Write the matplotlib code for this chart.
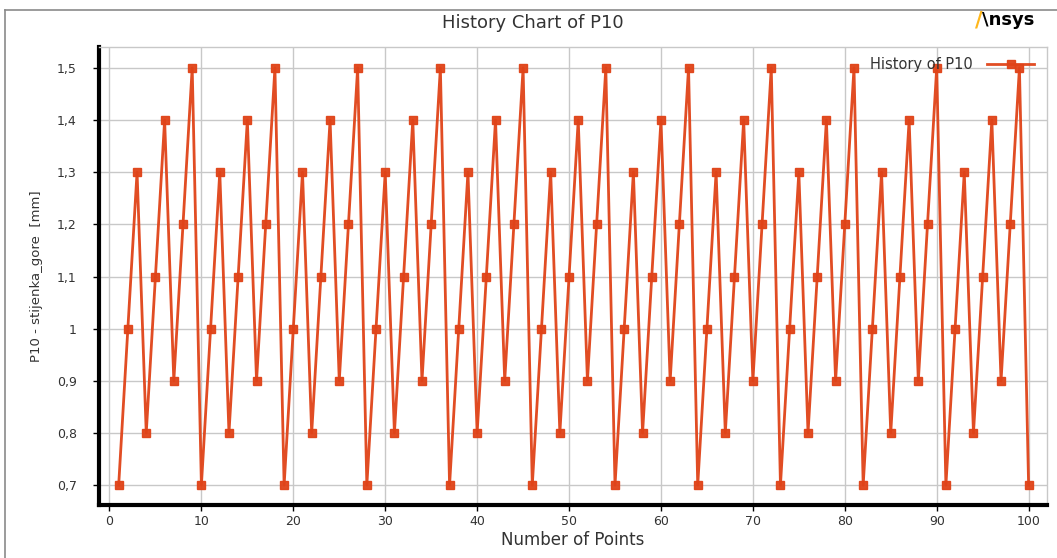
import matplotlib
matplotlib.use("Agg")
import matplotlib.pyplot as plt
from matplotlib.lines import Line2D
from matplotlib.ticker import FuncFormatter

points = list(range(1, 101))
p10 = [0.7, 1.0, 1.3, 0.8, 1.1, 1.4, 0.9, 1.2, 1.5,
       0.7, 1.0, 1.3, 0.8, 1.1, 1.4, 0.9, 1.2, 1.5,
       0.7, 1.0, 1.3, 0.8, 1.1, 1.4, 0.9, 1.2, 1.5,
       0.7, 1.0, 1.3, 0.8, 1.1, 1.4, 0.9, 1.2, 1.5,
       0.7, 1.0, 1.3, 0.8, 1.1, 1.4, 0.9, 1.2, 1.5,
       0.7, 1.0, 1.3, 0.8, 1.1, 1.4, 0.9, 1.2, 1.5,
       0.7, 1.0, 1.3, 0.8, 1.1, 1.4, 0.9, 1.2, 1.5,
       0.7, 1.0, 1.3, 0.8, 1.1, 1.4, 0.9, 1.2, 1.5,
       0.7, 1.0, 1.3, 0.8, 1.1, 1.4, 0.9, 1.2, 1.5,
       0.7, 1.0, 1.3, 0.8, 1.1, 1.4, 0.9, 1.2, 1.5,
       0.7, 1.0, 1.3, 0.8, 1.1, 1.4, 0.9, 1.2, 1.5,
       0.7]
yticks = [0.7, 0.8, 0.9, 1.0, 1.1, 1.2, 1.3, 1.4, 1.5]
xticks = [0, 10, 20, 30, 40, 50, 60, 70, 80, 90, 100]

col = '#E04318'
txt = '#333333'

W, H = 1057, 558
fig = plt.figure(figsize=(W / 100, H / 100), dpi=100)

# outer frame
fig.add_artist(Line2D([5 / W, 5 / W], [0, 1 - 10 / H], color='#8a8a8a', lw=1.2,
                      transform=fig.transFigure))
fig.add_artist(Line2D([5 / W, 1], [1 - 10 / H, 1 - 10 / H], color='#8a8a8a', lw=1.2,
                      transform=fig.transFigure))

ax = fig.add_axes([99 / W, 1 - 505 / H, (1047 - 99) / W, (505 - 47) / H])
ax.plot(points, p10, color=col, lw=2, marker='s', ms=5.5, label='History of P10', alpha=0.95)
ax.set_xlim(-1.14, 102)
ax.set_ylim(0.662, 1.54)
ax.set_xticks(xticks)
ax.set_yticks(yticks)


def comma(v, pos):
    s = ('%.1f' % v).rstrip('0').rstrip('.')
    return s.replace('.', ',')


ax.yaxis.set_major_formatter(FuncFormatter(comma))
ax.grid(True, color='#c8c8c8', lw=1)
ax.set_axisbelow(True)
for s in ['top', 'right']:
    ax.spines[s].set_color('#c8c8c8')
    ax.spines[s].set_linewidth(1)
for s in ['left', 'bottom']:
    ax.spines[s].set_color('black')
    ax.spines[s].set_linewidth(3)
ax.tick_params(axis='both', direction='out', length=4, width=1, colors='black',
               labelcolor=txt, labelsize=9)
ax.tick_params(axis='y', pad=12)

ax.set_xlabel('Number of Points', fontsize=12, color=txt, labelpad=2)
ax.set_ylabel('P10 - stijenka_gore  [mm]', fontsize=9.5, color=txt, labelpad=10)

fig.text(533 / W, 1 - 23 / H, 'History Chart of P10', ha='center', va='center',
         fontsize=13, color=txt)

# logo
fig.text(975 / W, 1 - 20 / H, '/', ha='left', va='center', fontsize=15,
         color='#FFB71B', fontweight='bold')
fig.text(982 / W, 1 - 20 / H, '\\nsys', ha='left', va='center', fontsize=13,
         color='black', fontweight='bold')

ax.legend(loc='upper right', frameon=False, fontsize=10.5, handlelength=3.2,
          bbox_to_anchor=(0.997, 1.0), labelcolor=txt, markerfirst=False,
          borderaxespad=0.3, handletextpad=1.0)

fig.savefig('out.png', dpi=100)
